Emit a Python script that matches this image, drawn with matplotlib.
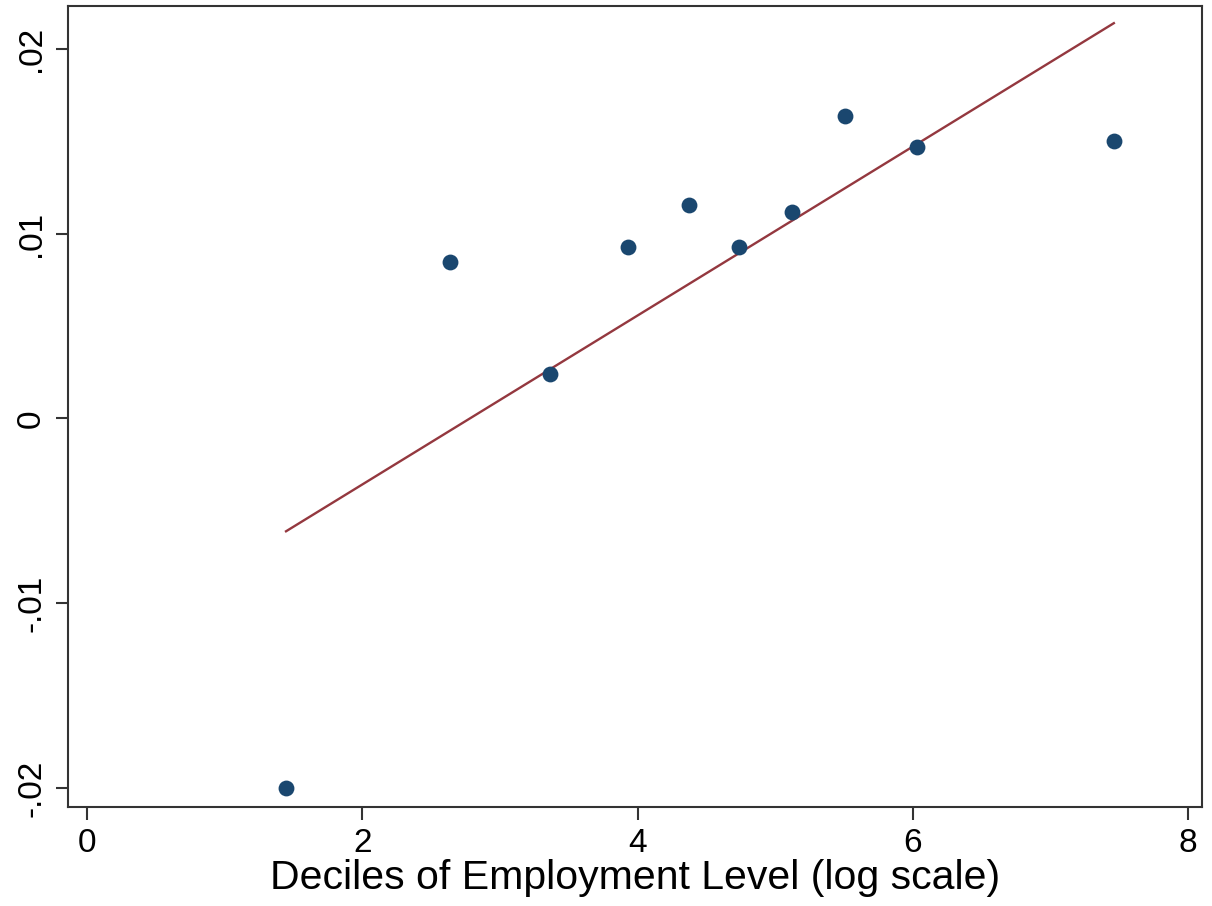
import numpy as np
import matplotlib
matplotlib.use("Agg")
import matplotlib.pyplot as plt

# decile means: log employment level vs outcome
decile_x = [1.446, 2.638, 3.365, 3.93, 4.37, 4.74, 5.12, 5.51, 6.03, 7.46]
decile_y = [-0.0200, 0.00849, 0.00238, 0.0093, 0.01157, 0.0093, 0.01119, 0.01638, 0.0147, 0.01503]

fit_x = [1.446, 7.46]
fit_y = [-0.00611, 0.02139]

x_ticks = [0, 2, 4, 6, 8]
y_ticks = [-0.02, -0.01, 0, 0.01, 0.02]
y_tick_labels = ["-.02", "-.01", "0", ".01", ".02"]

plt.rcParams["font.family"] = ["Liberation Sans", "DejaVu Sans"]

fig = plt.figure(figsize=(12.12, 9.06), dpi=100)
ax = fig.add_axes([0.0561, 0.1093, 0.9356, 0.8841])

ax.scatter(decile_x, decile_y, s=130, color="#1a476f", zorder=3, linewidths=0)
ax.plot(fit_x, fit_y, color="#94383f", linewidth=1.7, zorder=2)

ax.set_xlim(-0.138, 8.10)
ax.set_ylim(-0.02103, 0.02232)
ax.set_xticks(x_ticks)
ax.set_yticks(y_ticks)
ax.set_yticklabels(y_tick_labels, rotation=90, va="center")
ax.tick_params(axis="both", labelsize=24, length=9, width=1.5, color="#333333", direction="out")
ax.tick_params(axis="x", pad=6)
ax.tick_params(axis="y", pad=6)
ax.set_xlabel("Deciles of Employment Level (log scale)", fontsize=29.5, labelpad=0)

for s in ax.spines.values():
    s.set_linewidth(1.5)
    s.set_color("#333333")

fig.savefig("out.png", dpi=100)
